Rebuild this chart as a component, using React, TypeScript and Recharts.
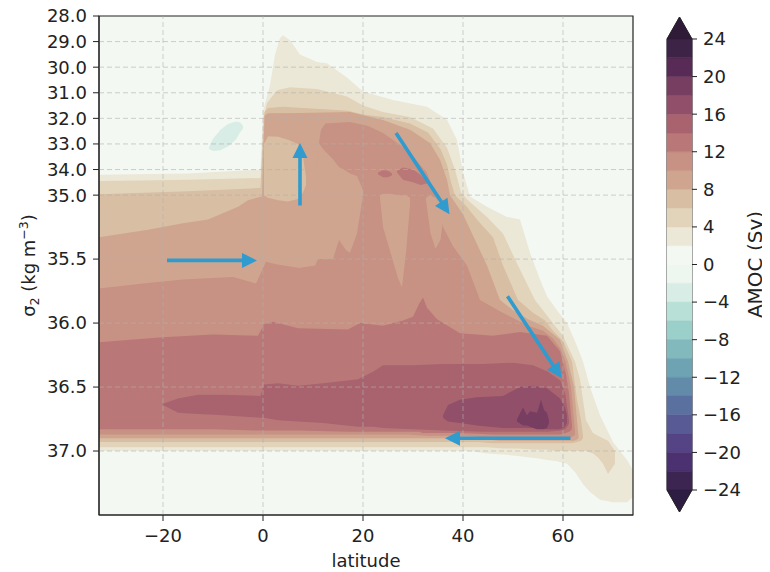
import React from 'react';
import {
  ComposedChart,
  Area,
  Line,
  XAxis,
  YAxis,
  ReferenceLine,
  ReferenceArea,
  Label,
  BarChart,
  Bar,
} from 'recharts';

const FONT = "'DejaVu Sans', sans-serif";
const INK = '#222222';
const ARROW = '#2f9bcf';

// axes
const latDomain: [number, number] = [-32.8, 74];
const latTicks = [-20, 0, 20, 40, 60];
const sigmaTicks = [28, 29, 30, 31, 32, 33, 34, 35, 35.5, 36, 36.5, 37];
const sigmaBottom = 37.5;

// contourf levels (Sv); band i spans levels[i]..levels[i+1]
const levels = [-24, -22, -20, -18, -16, -14, -12, -10, -8, -6, -4, -2, 0, 2, 4, 6, 8, 10, 12, 14, 16, 18, 20, 22, 24];
const bandColors = [
  '#3c2551', '#4c3170', '#544485', '#575a94', '#5a71a0', '#628aa9',
  '#6ea3b3', '#82b9bd', '#9bcfc9', '#b9e0d7', '#d8ede5', '#eef6f0',
  '#f4f8f2', '#ece8d8', '#e2d4ba', '#d8bea3', '#cfa58f', '#c79183',
  '#b97877', '#a8636f', '#924f69', '#783e61', '#572b55', '#3d2446',
];
const extendBelow = '#2e1d42';
const extendAbove = '#2f1b38';
const cbTicks = [-24, -20, -16, -12, -8, -4, 0, 4, 8, 12, 16, 20, 24];
const cbExtend = 2.34;

// contour regions: [latitude, sigma top, sigma bottom]
const background = [[-32.8, 28, 37.5], [74, 28, 37.5]];
const negBlob = [
  [-10.8, 33.12, 33.2], [-10, 32.8, 33.28], [-8.5, 32.45, 33.25], [-7, 32.22, 33.1], [-5.5, 32.12, 32.85],
  [-4.6, 32.15, 32.55], [-4.0, 32.3, 32.4],
];
const band2 = [
  [-32.8, 34.2, 37.0], [-15, 34.15, 37.0], [-0.5, 34.0, 37.0], [0, 31.7, 37.0], [1.4, 30.7, 37.0],
  [2.4, 29.5, 37.0], [3.4, 28.86, 37.0], [4, 28.75, 37.0], [5.4, 28.95, 37.0], [7.4, 29.5, 37.0],
  [10.8, 29.8, 37.0], [12.8, 29.85, 37.0], [16.8, 30.4, 37.0], [20, 30.95, 37.0], [26, 31.28, 37.0],
  [32.8, 31.55, 37.0], [36.8, 32.05, 37.0], [38.8, 32.85, 37.0], [40, 34.1, 37.0], [41.4, 35.01, 37.0],
  [44.8, 35.09, 37.02], [48.8, 35.17, 37.03], [51.4, 35.19, 37.04], [53.4, 35.45, 37.05], [55.4, 35.66, 37.06],
  [56.8, 35.79, 37.07], [58.8, 35.9, 37.08], [60.8, 36.0, 37.1], [62.5, 36.15, 37.17], [64, 36.3, 37.26],
  [65.4, 36.5, 37.32], [67.4, 36.72, 37.38], [70, 36.93, 37.4], [72.8, 37.07, 37.4], [74, 37.15, 37.36],
];
const band4 = [
  [-32.8, 34.45, 36.97], [-15, 34.4, 36.97], [-0.5, 34.33, 36.97], [0.1, 31.95, 36.97], [0.8, 31.4, 36.97],
  [2.8, 30.9, 36.97], [5.4, 30.78, 36.97], [10.8, 30.85, 36.97], [16.8, 31.15, 36.97], [20, 31.5, 36.97],
  [24, 31.75, 36.97], [29.4, 31.95, 36.97], [34, 32.4, 36.97], [36.8, 33.15, 36.97], [38.4, 34.0, 36.97],
  [39.6, 34.9, 36.97], [41, 35.04, 36.97], [44.8, 35.17, 36.97], [48, 35.3, 36.98], [51, 35.55, 36.98],
  [54.4, 35.82, 36.99], [57, 35.95, 36.99], [58.4, 36.02, 37.0], [60, 36.1, 37.0], [62.4, 36.3, 37.0],
  [63.4, 36.44, 37.0], [64.6, 36.76, 37.0], [66, 36.86, 37.02], [67, 36.88, 37.05], [68, 36.9, 37.1],
  [69, 36.92, 37.18], [70.4, 37.0, 37.1],
];
const band6 = [
  [-32.8, 34.97, 36.93], [-15, 34.85, 36.93], [-0.5, 34.72, 36.93], [0.3, 31.75, 36.93], [1, 31.6, 36.93],
  [4, 31.55, 36.93], [8, 31.6, 36.93], [13, 31.65, 36.93], [17, 31.7, 36.93], [20, 31.85, 36.93],
  [24, 31.95, 36.93], [29.4, 32.2, 36.93], [33, 32.55, 36.93], [35.5, 33.2, 36.93], [36.8, 33.8, 36.93],
  [37.6, 34.5, 36.93], [38.4, 35.0, 36.93], [40.5, 35.08, 36.93], [43, 35.2, 36.93], [46, 35.33, 36.94],
  [48, 35.55, 36.94], [51, 35.82, 36.94], [54, 35.92, 36.94], [56.4, 35.98, 36.94], [58, 36.06, 36.94],
  [60, 36.14, 36.94], [61.8, 36.3, 36.94], [62.8, 36.6, 36.93], [63.6, 36.76, 36.92], [64, 36.88, 36.9],
];
const band8 = [
  [-32.8, 35.33, 36.9], [-23, 35.27, 36.9], [-16, 35.22, 36.9], [-11, 35.19, 36.9], [-5, 35.09, 36.9],
  [-3, 35.04, 36.9], [-0.2, 35.01, 36.9], [0.3, 31.9, 36.9], [1, 31.8, 36.9], [7.4, 31.79, 36.9],
  [17.4, 31.75, 36.9], [24, 32.06, 36.9], [29.4, 32.45, 36.9], [33.4, 32.96, 36.9], [35.4, 33.62, 36.9],
  [36.8, 34.4, 36.9], [37.4, 35.0, 36.9], [40, 35.15, 36.9], [43, 35.4, 36.91], [44.8, 35.55, 36.91],
  [47.4, 35.82, 36.92], [50, 35.9, 36.92], [53, 35.97, 36.92], [56, 36.02, 36.92], [59.4, 36.13, 36.92],
  [61, 36.3, 36.92], [62.2, 36.5, 36.92], [62.8, 36.76, 36.91], [63.1, 36.88, 36.9],
];
const pocket6 = [
  [0.2, 33.0, 35.0], [1, 32.7, 35.02], [3, 32.72, 35.04], [5, 32.84, 35.05], [7, 33.0, 35.03],
  [8, 33.5, 34.9], [8.6, 34.3, 34.6],
];
const band10 = [
  [-32.8, 35.73, 36.87], [-24, 35.69, 36.87], [-16, 35.66, 36.87], [-6, 35.64, 36.87], [-1.4, 35.69, 36.87],
  [0.6, 35.52, 36.87], [2.6, 35.54, 36.87], [7.2, 35.57, 36.87], [10.5, 35.55, 36.87], [11, 33.2, 36.87],
  [11.6, 32.45, 36.87], [12.5, 32.2, 36.87], [17.4, 32.14, 36.87], [21, 32.3, 36.87], [24, 32.57, 36.87],
  [28.8, 33.23, 36.87], [32.8, 34.13, 36.88], [34, 34.8, 36.88], [35, 35.05, 36.88], [36, 35.25, 36.88],
  [38, 35.4, 36.88], [40.8, 35.55, 36.88], [43.4, 35.82, 36.89], [47, 35.9, 36.89], [50, 35.96, 36.89],
  [53, 36.02, 36.89], [56, 36.06, 36.89], [58, 36.12, 36.89], [59.5, 36.2, 36.89], [60.5, 36.3, 36.89],
  [61.6, 36.5, 36.89], [62.2, 36.76, 36.88], [62.4, 36.85, 36.87],
];
const colA8 = [
  [10.4, 35.2, 35.55], [11, 32.9, 35.5], [12, 33.2, 35.5], [14, 33.6, 35.5], [15.2, 33.9, 35.35],
  [16.6, 34.05, 35.43], [17.4, 34.15, 35.45], [18.8, 34.25, 35.3], [20, 34.8, 35.0],
];
const colB8 = [
  [23.4, 35.0, 35.02], [24, 34.95, 35.25], [25.5, 34.95, 35.45], [27, 35.0, 35.65], [27.8, 35.0, 35.72],
  [28.6, 35.0, 35.45], [29.4, 35.02, 35.08],
];
const colC8 = [[32.6, 35.02, 35.04], [33.5, 35.0, 35.3], [34.5, 35.02, 35.42], [35.5, 35.08, 35.35], [36, 35.15, 35.2]];
const core12a = [[23, 34.12, 34.18], [24, 34.03, 34.3], [25, 34.05, 34.3], [25.8, 34.15, 34.22]];
const core12b = [[26.8, 34.05, 34.12], [28, 33.92, 34.4], [30, 34.0, 34.5], [31.5, 34.2, 34.6], [32.8, 34.45, 34.55]];
const band12 = [
  [-32.8, 36.15, 36.83], [-20, 36.11, 36.83], [-10, 36.09, 36.83], [-1, 36.1, 36.84], [0.2, 36.01, 36.84],
  [2, 35.99, 36.84], [7, 36.04, 36.84], [17, 36.05, 36.85], [19.4, 36.0, 36.85], [24, 36.02, 36.85],
  [28, 35.98, 36.85], [30, 35.95, 36.85], [31.2, 35.85, 36.85], [32, 35.8, 36.86], [32.8, 35.88, 36.86],
  [34.8, 35.97, 36.86], [39.4, 36.08, 36.86], [46, 36.1, 36.87], [51.4, 36.07, 36.87], [56.8, 36.1, 36.87],
  [59.4, 36.22, 36.87], [60.6, 36.4, 36.86], [61.2, 36.55, 36.85], [61.6, 36.72, 36.84], [61.8, 36.8, 36.82],
];
const band14 = [
  [-20, 36.63, 36.64], [-17, 36.59, 36.7], [-13, 36.56, 36.71], [-8, 36.56, 36.72], [-0.5, 36.57, 36.74],
  [0.2, 36.48, 36.74], [3, 36.47, 36.76], [7, 36.49, 36.77], [12, 36.47, 36.78], [19, 36.44, 36.81],
  [22, 36.38, 36.81], [24, 36.33, 36.82], [30, 36.33, 36.83], [36, 36.32, 36.84], [44, 36.32, 36.85],
  [50, 36.31, 36.85], [54, 36.33, 36.85], [57, 36.38, 36.85], [59.5, 36.45, 36.84], [60.5, 36.56, 36.83],
  [61, 36.7, 36.8], [61.2, 36.76, 36.78],
];
const band16 = [
  [36, 36.72, 36.74], [37, 36.64, 36.77], [39.4, 36.6, 36.78], [42.8, 36.58, 36.8], [48, 36.57, 36.82],
  [51.4, 36.5, 36.82], [54, 36.49, 36.82], [56.8, 36.51, 36.83], [59.4, 36.59, 36.83], [60.4, 36.66, 36.81],
  [60.8, 36.72, 36.78],
];
const band18 = [
  [50.8, 36.75, 36.77], [52, 36.66, 36.8], [52.8, 36.72, 36.8], [53.4, 36.69, 36.81], [54.8, 36.7, 36.83],
  [55.6, 36.6, 36.83], [56.2, 36.68, 36.83], [56.8, 36.7, 36.82], [57.2, 36.76, 36.78],
];

// overturning arrows: [latitude, sigma] start -> end
const arrows = [
  [[-19.2, 35.51], [-1.2, 35.51]],
  [[7.4, 35.08], [7.4, 32.96]],
  [[26.6, 32.57], [37.3, 35.15]],
  [[48.9, 35.79], [59.7, 36.43]],
  [[61.5, 36.9], [36.4, 36.9]],
];

// sigma axis is stretched 5x below 35.0
const toU = (s: number) => (s <= 35 ? s - 28 : 7 + (s - 35) * 5);
const uTicks = sigmaTicks.map(toU);
const uMax = toU(sigmaBottom);
const colorOf = (level: number) => bandColors[levels.indexOf(level)];
const minus = (v: number) => (v < 0 ? `\u2212${Math.abs(v)}` : `${v}`);
const fmtSigma = (u: number) => {
  const i = uTicks.findIndex((t) => Math.abs(t - u) < 1e-6);
  return i >= 0 ? sigmaTicks[i].toFixed(1) : '';
};

const layers = [
  { key: 'bg', level: 0, pts: background },
  { key: 'neg', level: -4, pts: negBlob },
  { key: 'c2', level: 2, pts: band2 },
  { key: 'c4', level: 4, pts: band4 },
  { key: 'c6', level: 6, pts: band6 },
  { key: 'c8', level: 8, pts: band8 },
  { key: 'p6', level: 6, pts: pocket6 },
  { key: 'c10', level: 10, pts: band10 },
  { key: 'a8', level: 8, pts: colA8 },
  { key: 'b8', level: 8, pts: colB8 },
  { key: 'cc8', level: 8, pts: colC8 },
  { key: 'k12a', level: 12, pts: core12a },
  { key: 'k12b', level: 12, pts: core12b },
  { key: 'c12', level: 12, pts: band12 },
  { key: 'c14', level: 14, pts: band14 },
  { key: 'c16', level: 16, pts: band16 },
  { key: 'c18', level: 18, pts: band18 },
];

const table = layers
  .flatMap((l) => l.pts.map(([lat, top, bot]) => ({ lat, [l.key]: [toU(top), toU(bot)] })))
  .sort((a, b) => a.lat - b.lat);

const arrowData = arrows.map((a) => a.map(([lat, s]) => ({ lat, u: toU(s) })));

const ArrowHead = (props: any) => {
  const { cx, cy, index, points } = props;
  if (!points || index === 0 || index !== points.length - 1) return <g />;
  const start = points[0];
  const dx = cx - start.x;
  const dy = cy - start.y;
  const len = Math.hypot(dx, dy) || 1;
  const ux = dx / len, uy = dy / len, nx = -uy, ny = ux;
  const head = 15, half = 7.5, shaft = 1.8;
  const bx = cx - ux * head, by = cy - uy * head;
  const P = (x: number, y: number) => `${x.toFixed(1)},${y.toFixed(1)}`;
  const d =
    `M${P(start.x + nx * shaft, start.y + ny * shaft)} L${P(bx + nx * shaft, by + ny * shaft)} ` +
    `L${P(bx + nx * half, by + ny * half)} L${P(cx, cy)} L${P(bx - nx * half, by - ny * half)} ` +
    `L${P(bx - nx * shaft, by - ny * shaft)} L${P(start.x - nx * shaft, start.y - ny * shaft)} Z`;
  return <path d={d} fill={ARROW} stroke="none" />;
};

const SigmaLabel = (props: any) => {
  const vb = props.viewBox || { x: 39, y: 16, width: 60, height: 499 };
  const x = vb.x - 4;
  const y = vb.y + vb.height / 2;
  return (
    <text x={x} y={y} transform={`rotate(-90 ${x} ${y})`} textAnchor="middle" fill={INK} fontSize={18} fontFamily={FONT}>
      σ<tspan fontSize={12.5} dy={4}>2</tspan>
      <tspan dy={-4}> (kg m</tspan>
      <tspan fontSize={12.5} dy={-7}>−3</tspan>
      <tspan dy={7}>)</tspan>
    </text>
  );
};

const AmocLabel = (props: any) => {
  const vb = props.viewBox || { x: 44, y: 17, width: 45, height: 495 };
  const x = vb.x + vb.width + 25;
  const y = vb.y + vb.height / 2;
  return (
    <text x={x} y={y} transform={`rotate(-90 ${x} ${y})`} textAnchor="middle" fill={INK} fontSize={20} fontFamily={FONT}>
      AMOC (Sv)
    </text>
  );
};

// colour bar: one stacked bar, bands stacked outward from zero
const cbBands = levels.slice(0, -1).map((lo, i) => ({ key: `b${i}`, lo, hi: levels[i + 1], color: bandColors[i] }));
const cbNeg = cbBands.filter((b) => b.hi <= 0).sort((a, b) => b.hi - a.hi);
const cbPos = cbBands.filter((b) => b.lo >= 0).sort((a, b) => a.lo - b.lo);
const cbRow: Record<string, any> = { name: 'AMOC', extLow: -cbExtend, extHigh: cbExtend };
cbBands.forEach((b) => {
  cbRow[b.key] = b.lo >= 0 ? b.hi - b.lo : b.lo - b.hi;
});
const cbData = [cbRow];

const triangle = (up: boolean) => (p: any) => {
  const { x, y, width, height, fill } = p;
  const top = Math.min(y, y + height);
  const bot = Math.max(y, y + height);
  const base = up ? bot : top;
  const tip = up ? top : bot;
  const mid = x + width / 2;
  return (
    <g>
      <path d={`M${x},${base} L${mid},${tip} L${x + width},${base} Z`} fill={fill} stroke={fill} strokeWidth={0.5} />
      <path d={`M${x},${base} L${mid},${tip} L${x + width},${base}`} fill="none" stroke={INK} strokeWidth={1} />
    </g>
  );
};

const tickStyle = { fill: INK, fontSize: 18, fontFamily: FONT };

export default function App() {
  return (
    <div style={{ position: 'relative', width: 770, height: 572, margin: '-8px 0 0 -8px', background: '#ffffff' }}>
      <div style={{ position: 'absolute', left: 0, top: 0 }}>
        <ComposedChart width={648} height={572} data={table} margin={{ top: 16, right: 15, bottom: 2, left: 39 }}>
          <XAxis
            dataKey="lat"
            type="number"
            domain={latDomain}
            ticks={latTicks}
            interval={0}
            allowDataOverflow
            tickFormatter={minus}
            tick={tickStyle}
            tickSize={6}
            tickMargin={8}
            height={55}
            axisLine={{ stroke: INK }}
            tickLine={{ stroke: INK }}
          >
            <Label value="latitude" position="insideBottom" offset={3} fill={INK} fontSize={18} fontFamily={FONT} />
          </XAxis>
          <YAxis
            type="number"
            domain={[0, uMax]}
            reversed
            ticks={uTicks}
            interval={0}
            allowDataOverflow
            tickFormatter={fmtSigma}
            tick={tickStyle}
            tickSize={6}
            tickMargin={6}
            width={60}
            axisLine={{ stroke: INK }}
            tickLine={{ stroke: INK }}
          >
            <Label content={<SigmaLabel />} />
          </YAxis>

          {layers.map((l) => (
            <Area
              key={l.key}
              dataKey={l.key}
              type="linear"
              fill={colorOf(l.level)}
              fillOpacity={1}
              stroke="none"
              connectNulls
              dot={false}
              activeDot={false}
              isAnimationActive={false}
            />
          ))}

          {latTicks.map((t) => (
            <ReferenceLine key={`gx${t}`} x={t} stroke="#b0b0b0" strokeOpacity={0.6} strokeDasharray="5 3" />
          ))}
          {uTicks.slice(1).map((t) => (
            <ReferenceLine key={`gy${t}`} y={t} stroke="#b0b0b0" strokeOpacity={0.6} strokeDasharray="5 3" />
          ))}

          {arrowData.map((a, i) => (
            <Line
              key={`arrow${i}`}
              data={a}
              dataKey="u"
              stroke="none"
              dot={<ArrowHead />}
              activeDot={false}
              isAnimationActive={false}
            />
          ))}

          <ReferenceArea x1={latDomain[0]} x2={latDomain[1]} y1={0} y2={uMax} fill="none" stroke={INK} strokeWidth={1.2} />
        </ComposedChart>
      </div>

      <div style={{ position: 'absolute', left: 648, top: 0 }}>
        <BarChart
          width={122}
          height={572}
          data={cbData}
          stackOffset="sign"
          barCategoryGap={0}
          barGap={0}
          margin={{ top: 17, right: 33, bottom: 60, left: 19 }}
        >
          <XAxis dataKey="name" hide />
          <YAxis
            orientation="right"
            type="number"
            domain={[-24 - cbExtend, 24 + cbExtend]}
            ticks={cbTicks}
            interval={0}
            allowDataOverflow
            tickFormatter={minus}
            tick={tickStyle}
            tickSize={5}
            tickMargin={6}
            width={45}
            axisLine={false}
            tickLine={{ stroke: INK }}
          >
            <Label content={<AmocLabel />} />
          </YAxis>
          {cbNeg.map((b) => (
            <Bar key={b.key} dataKey={b.key} stackId="cb" fill={b.color} stroke={b.color} strokeWidth={0.5} isAnimationActive={false} />
          ))}
          <Bar dataKey="extLow" stackId="cb" fill={extendBelow} isAnimationActive={false} shape={triangle(false)} />
          {cbPos.map((b) => (
            <Bar key={b.key} dataKey={b.key} stackId="cb" fill={b.color} stroke={b.color} strokeWidth={0.5} isAnimationActive={false} />
          ))}
          <Bar dataKey="extHigh" stackId="cb" fill={extendAbove} isAnimationActive={false} shape={triangle(true)} />
          <ReferenceArea y1={-24} y2={24} fill="none" stroke={INK} strokeWidth={1} />
        </BarChart>
      </div>
    </div>
  );
}
